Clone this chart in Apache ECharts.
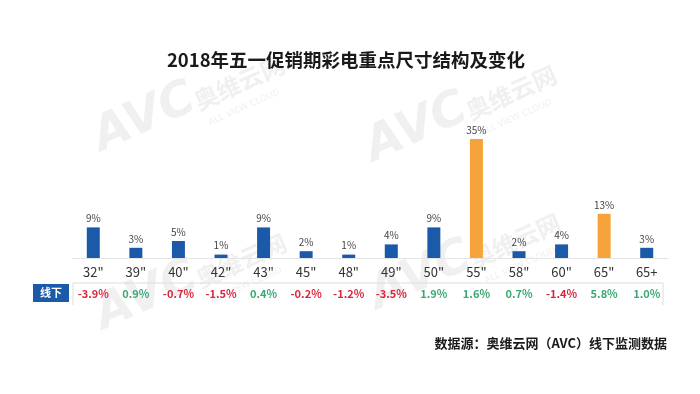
<!DOCTYPE html>
<html>
<head>
<meta charset="utf-8">
<script src="https://cdn.jsdelivr.net/npm/echarts@6/dist/echarts.min.js"></script>
<style>html,body{margin:0;padding:0;background:#fff;}#c{width:700px;height:394px;}</style>
</head>
<body>
<div id="c"></div>
<script>
const categories = ['32"','39"','40"','42"','43"','45"','48"','49"','50"','55"','58"','60"','65"','65+'];
const shareValues = [9,3,5,1,9,2,1,4,9,35,2,4,13,3];
const changeValues = [-3.9,0.9,-0.7,-1.5,0.4,-0.2,-1.2,-3.5,1.9,1.6,0.7,-1.4,5.8,1.0];
const highlightCats = ['55"','65"'];

const FONT = '"Noto Sans CJK SC","Noto Sans",sans-serif';
const BLUE = '#1b5aa8';
const ORANGE = '#f5a33a';
const WM = '#f0f0f0';

function watermark(x, y) {
  return {
    type: 'group', x: x, y: y, rotation: 0.42, silent: true, z: -10,
    children: [
      {type:'text', x:0, y:0, style:{text:'AVC', fontSize:48, fontWeight:'bold', fontStyle:'italic', fontFamily:'"DejaVu Sans",sans-serif', fill:WM, textVerticalAlign:'bottom'}},
      {type:'text', x:106, y:-6, style:{text:'奥维云网', fontSize:24, fontWeight:'bold', fontFamily:FONT, fill:WM, textVerticalAlign:'bottom'}},
      {type:'text', x:110, y:11, style:{text:'ALL VIEW CLOUD', fontSize:9, fontFamily:'"DejaVu Sans",sans-serif', fill:WM, textVerticalAlign:'bottom'}}
    ]
  };
}

const chart = echarts.init(document.getElementById('c'), null, {renderer:'canvas'});
chart.setOption({
  backgroundColor: '#fff',
  animation: false,
  title: {
    text: '2018年五一促销期彩电重点尺寸结构及变化',
    left: 341, top: 46, textAlign: 'center',
    textStyle: {fontSize: 18.5, fontWeight: 'bold', color: '#1a1a1a', fontFamily: FONT}
  },
  grid: {left: 72, right: 32, top: 122, bottom: 136},
  xAxis: {
    type: 'category',
    data: categories,
    axisLine: {show: true, lineStyle: {color: '#e4e4e4', width: 1}},
    axisTick: {show: false},
    axisLabel: {
      margin: 4,
      interval: 0,
      formatter: function (v, i) {
        const c = changeValues[i];
        const key = c < 0 ? 'neg' : 'pos';
        return '{cat|' + v + '}\n{' + key + '|' + c.toFixed(1) + '%}';
      },
      rich: {
        cat: {fontSize: 13, color: '#333', fontFamily: FONT, lineHeight: 20},
        neg: {fontSize: 11, fontWeight: 'bold', color: '#d9283c', fontFamily: FONT, lineHeight: 24},
        pos: {fontSize: 11, fontWeight: 'bold', color: '#3aa872', fontFamily: FONT, lineHeight: 24}
      }
    }
  },
  yAxis: {type: 'value', min: 0, max: 40, show: false, splitLine: {show: false}},
  series: [{
    type: 'bar',
    barWidth: 13,
    data: shareValues.map((v, i) => ({
      value: v,
      itemStyle: {color: highlightCats.includes(categories[i]) ? ORANGE : BLUE}
    })),
    label: {
      show: true, position: 'top', distance: 4,
      formatter: '{c}%',
      fontSize: 10, color: '#444', fontFamily: FONT
    }
  }],
  graphic: [
    watermark(106, 162),
    watermark(378, 172),
    watermark(108, 340),
    watermark(382, 320),
    {type:'polyline', silent:true, shape:{points:[[73,305],[73,283],[663,283],[663,305]]}, style:{stroke:'#dcdcdc', lineWidth:1, fill:null}},
    {type:'rect', shape:{x:33, y:284, width:36, height:18}, style:{fill:'#1b5aa8'}},
    {type:'text', x:51, y:293, style:{text:'线下', fontSize:11, fontWeight:'bold', fill:'#fff', fontFamily:FONT, textAlign:'center', textVerticalAlign:'middle'}},
    {type:'text', x:667, y:343, style:{text:'数据源：奥维云网（AVC）线下监测数据', fontSize:13, fontWeight:'bold', fill:'#1a1a1a', fontFamily:FONT, textAlign:'right', textVerticalAlign:'middle'}}
  ]
});
</script>
</body>
</html>
